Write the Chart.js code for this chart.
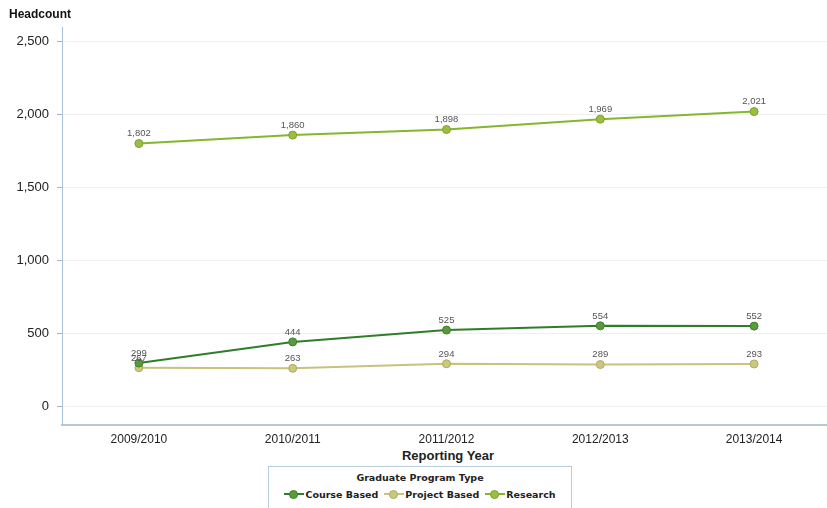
<!DOCTYPE html>
<html lang="en">
<head>
    <meta charset="UTF-8">
    <title>Headcount by Graduate Program Type</title>
    <script src="https://cdn.jsdelivr.net/npm/chart.js"></script>
    <style>
        body { margin: 0; background: #fff; overflow: hidden; font-family: "Liberation Sans", Arial, sans-serif; }
        #wrap { position: relative; width: 827px; height: 508px; overflow: hidden; }
        #chartBox { position: absolute; left: 0; top: 0; width: 836px; height: 448px; }
        #ytitle { position: absolute; left: 9px; top: 7px; font-weight: bold; font-size: 12px; color: #111; }
        #xtitle { position: absolute; left: 62px; width: 772px; top: 448px; text-align: center; font-weight: bold; font-size: 13px; color: #222; }
        #legend { position: absolute; left: 268px; top: 466px; width: 304px; height: 50px; border: 1px solid #b7cde0; box-sizing: border-box; text-align: center; font-family: "DejaVu Sans", sans-serif; }
        #legend .ttl { font-weight: bold; font-size: 9.5px; color: #222; margin-top: 5px; }
        #legend .items { margin-top: 6px; font-size: 9.5px; font-weight: bold; color: #222; white-space: nowrap; }
        #legend .item { display: inline-block; margin: 0 3px; }
        #legend .mk { display: inline-block; position: relative; width: 20px; height: 9px; vertical-align: -1px; margin-right: 1px; }
        #legend .mk i { position: absolute; left: 0; right: 0; top: 3px; height: 2px; }
        #legend .mk b { position: absolute; left: 5px; top: 0; width: 7px; height: 7px; border-radius: 50%; border: 1px solid; }
    </style>
</head>
<body>
<div id="wrap">
    <div id="chartBox"><canvas id="headChart"></canvas></div>
    <div id="ytitle">Headcount</div>
    <div id="xtitle">Reporting Year</div>
    <div id="legend">
        <div class="ttl">Graduate Program Type</div>
        <div class="items" id="legendItems"></div>
    </div>
</div>
<script>
const years = ['2009/2010', '2010/2011', '2011/2012', '2012/2013', '2013/2014'];
const seriesNames = ['Course Based', 'Project Based', 'Research'];
const courseBased = [299, 444, 525, 554, 552];
const projectBased = [267, 263, 294, 289, 293];
const research = [1802, 1860, 1898, 1969, 2021];
const yTicks = [0, 500, 1000, 1500, 2000, 2500];

const lineColors = ['#2f7d2a', '#c8c27c', '#86b52e'];
const dotColors = ['#5b9a3c', '#cbc77e', '#9bbe40'];
const dotBorders = ['#3f7f2c', '#b0ab62', '#77a52a'];

// value labels above each point
const pointLabels = {
    id: 'pointLabels',
    afterDatasetsDraw(chart) {
        const ctx = chart.ctx;
        ctx.save();
        ctx.font = '9.5px "Liberation Sans", Arial, sans-serif';
        ctx.fillStyle = '#555';
        ctx.textAlign = 'center';
        ctx.textBaseline = 'bottom';
        chart.data.datasets.forEach((ds, i) => {
            chart.getDatasetMeta(i).data.forEach((pt, j) => {
                ctx.fillText(ds.data[j].toLocaleString('en-US'), pt.x, pt.y - 5);
            });
        });
        ctx.restore();
    }
};

const seriesData = [courseBased, projectBased, research];
const datasets = seriesNames.map((name, i) => ({
    label: name,
    data: seriesData[i],
    borderColor: lineColors[i],
    backgroundColor: dotColors[i],
    pointBackgroundColor: dotColors[i],
    pointBorderColor: dotBorders[i],
    pointBorderWidth: 1,
    pointRadius: 4,
    borderWidth: 2,
    tension: 0
}));

new Chart(document.getElementById('headChart'), {
    type: 'line',
    data: { labels: years, datasets: datasets },
    options: {
        responsive: true,
        maintainAspectRatio: false,
        animation: false,
        layout: { padding: { top: 27, left: 0, right: 0, bottom: 0 } },
        plugins: {
            legend: { display: false },
            tooltip: { enabled: false }
        },
        scales: {
            x: {
                offset: true,
                grid: { display: false, drawTicks: false },
                border: { color: '#b9c6d3', width: 2 },
                ticks: { color: '#222', font: { size: 12, family: '"Liberation Sans", Arial, sans-serif' }, padding: 7 },
                afterFit(scale) { scale.height = 23; }
            },
            y: {
                min: -125,
                max: 2600,
                afterBuildTicks(scale) { scale.ticks = yTicks.map(v => ({ value: v })); },
                afterFit(scale) { scale.width = 62; },
                grid: { color: '#efefef', tickColor: '#9fb4c8', tickLength: 5 },
                border: { color: '#a9c2da', width: 1 },
                ticks: {
                    color: '#222',
                    padding: 8,
                    font: { size: 13, family: '"Liberation Sans", Arial, sans-serif' },
                    callback: v => v.toLocaleString('en-US')
                }
            }
        }
    },
    plugins: [pointLabels]
});

// html legend
const legendItems = document.getElementById('legendItems');
seriesNames.forEach((name, i) => {
    const el = document.createElement('span');
    el.className = 'item';
    el.innerHTML = '<span class="mk"><i style="background:' + lineColors[i] + '"></i><b style="background:' + dotColors[i] + ';border-color:' + dotBorders[i] + '"></b></span>' + name;
    legendItems.appendChild(el);
});
</script>
</body>
</html>
